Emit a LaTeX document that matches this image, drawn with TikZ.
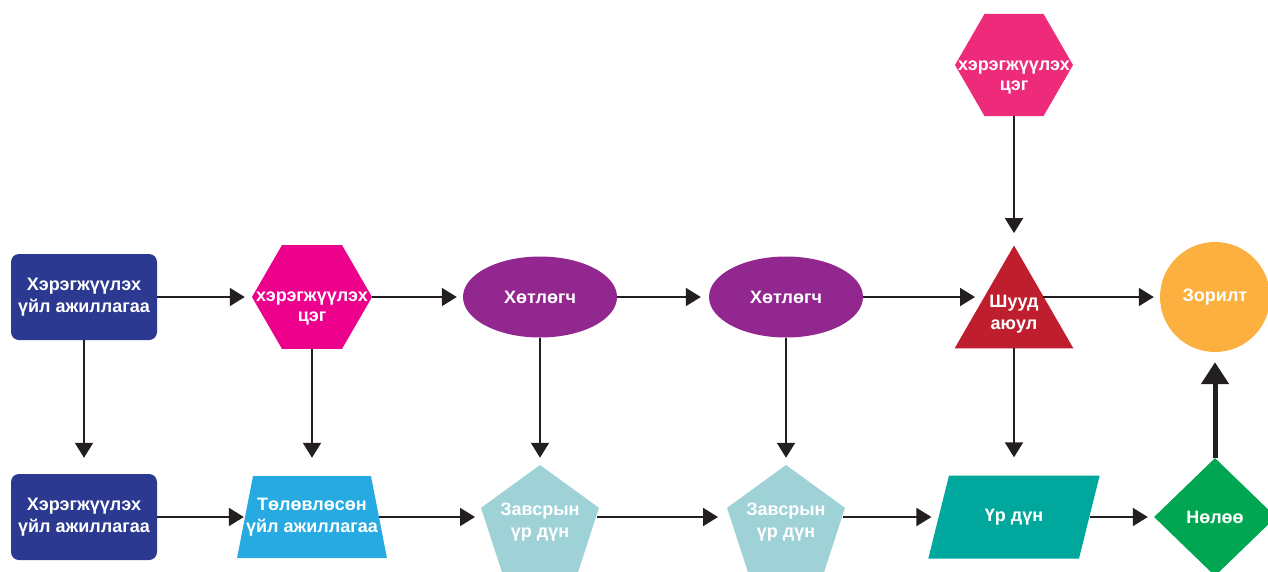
\documentclass[tikz,border=0pt]{standalone}
\usepackage{fontspec}
\setmainfont{Liberation Sans}
\usetikzlibrary{shapes.geometric,arrows.meta}
\definecolor{navy}{HTML}{2B3990}
\definecolor{pink1}{HTML}{EC008C}
\definecolor{rose}{HTML}{EE2A7B}
\definecolor{plum}{HTML}{92278F}
\definecolor{crimson}{HTML}{BE1E2D}
\definecolor{amber}{HTML}{FBB040}
\definecolor{sky}{HTML}{27AAE1}
\definecolor{mist}{HTML}{9FD2D6}
\definecolor{teal1}{HTML}{00A79D}
\definecolor{leaf}{HTML}{00A651}
\definecolor{ink}{HTML}{231F20}
\newcommand{\zl}[1]{\makebox[0pt]{#1}}

\begin{document}
\begin{tikzpicture}[x=1pt,y=-1pt,
  txt/.style={text=white,font=\bfseries\fontsize{18}{22}\selectfont,align=center,inner sep=0pt},
  arr/.style={draw,color=ink,line width=2pt,-{Triangle[width=18pt,length=15pt]}},
  hexa/.style={regular polygon,regular polygon sides=6,minimum size=120pt},
  penta/.style={regular polygon,regular polygon sides=5,minimum size=124pt}]
\useasboundingbox (0,0) rectangle (1268,571);
\clip (0,0) rectangle (1268,571);

\node[txt,fill=navy,rounded corners=8pt,minimum width=146pt,minimum height=86pt] (u1) at (84,297) {Хэрэгжүүлэх\\үйл ажиллагаа};
\node[hexa,fill=pink1] (u2) at (312,297) {};
\node[txt,font=\bfseries\fontsize{18}{20}\selectfont] (u2t) at (312,308) {хэрэгжүүлэх\\цэг};
\node[txt,ellipse,fill=plum,minimum width=154pt,minimum height=81pt] (u3) at (540,297) {Хөтлөгч};
\node[txt,ellipse,fill=plum,minimum width=154pt,minimum height=81pt] (u4) at (786,297) {Хөтлөгч};
\node[txt,regular polygon,regular polygon sides=3,minimum size=137pt,fill=crimson] (u5) at (1014,314) {\zl{Шууд}\\\zl{аюул}};
\node[txt,circle,fill=amber,minimum size=110pt] (zr) at (1215,297) {Зорилт};
\node[hexa,fill=rose,minimum size=118pt] (hx) at (1014,65) {};
\node[txt,font=\bfseries\fontsize{18}{20}\selectfont] (hxt) at (1014,77) {хэрэгжүүлэх\\цэг};

\node[txt,fill=navy,rounded corners=8pt,minimum width=146pt,minimum height=86pt] (d1) at (84,517) {Хэрэгжүүлэх\\үйл ажиллагаа};
\node[trapezium,trapezium left angle=79,trapezium right angle=79,inner xsep=59pt,inner ysep=41pt,fill=sky] (d2) at (312,517) {};
\node[txt] (d2t) at (312,517) {Төлөвлөсөн\\үйл ажиллагаа};
\node[penta,fill=mist] (d3) at (540,527) {};
\node[txt] (d3t) at (540,522) {Завсрын\\үр дүн};
\node[penta,fill=mist] (d4) at (786,527) {};
\node[txt] (d4t) at (786,522) {Завсрын\\үр дүн};
\node[trapezium,trapezium left angle=76,trapezium right angle=104,inner xsep=65pt,inner ysep=41.5pt,fill=teal1] (d5) at (1014,517) {};
\node[txt] (d5t) at (1014,517) {Үр дүн};
\node[txt,diamond,fill=leaf,minimum width=122pt,minimum height=118pt] (dm) at (1215,517) {Нөлөө};

\path[arr,shorten >=7pt] (u1) -- (u2);
\path[arr,shorten >=6pt] (u2) -- (u3);
\path[arr,shorten >=8pt] (u3) -- (u4);
\path[arr,shorten >=39pt] (u4) -- (u4 -| u5);
\path[arr,shorten <=29pt,shorten >=6pt] (u4 -| u5) -- (zr);
\path[arr,shorten >=12pt] (hx) -- (u5);

\path[arr,shorten >=16pt] (u1) -- (d1);
\path[arr,shorten >=18pt] (u2) -- (d2);
\path[arr,shorten >=7pt] (u3) -- (d3);
\path[arr,shorten >=7pt] (u4) -- (d4);
\path[arr,shorten >=18pt] (u5) -- (d5);

\path[arr,shorten >=1pt] (d1) -- (d2);
\path[arr,shorten >=65pt] (d2) -- (d2 -| d3);
\path[arr,shorten <=57pt,shorten >=68pt] (d2 -| d3) -- (d2 -| d4);
\path[arr,shorten <=57pt,shorten >=7pt] (d2 -| d4) -- (d5);
\path[arr,shorten >=6pt] (d5) -- (dm);
\path[arr,line width=5pt,-{Triangle[width=27pt,length=22pt]},shorten >=10pt] (dm) -- (zr);
\end{tikzpicture}
\end{document}
